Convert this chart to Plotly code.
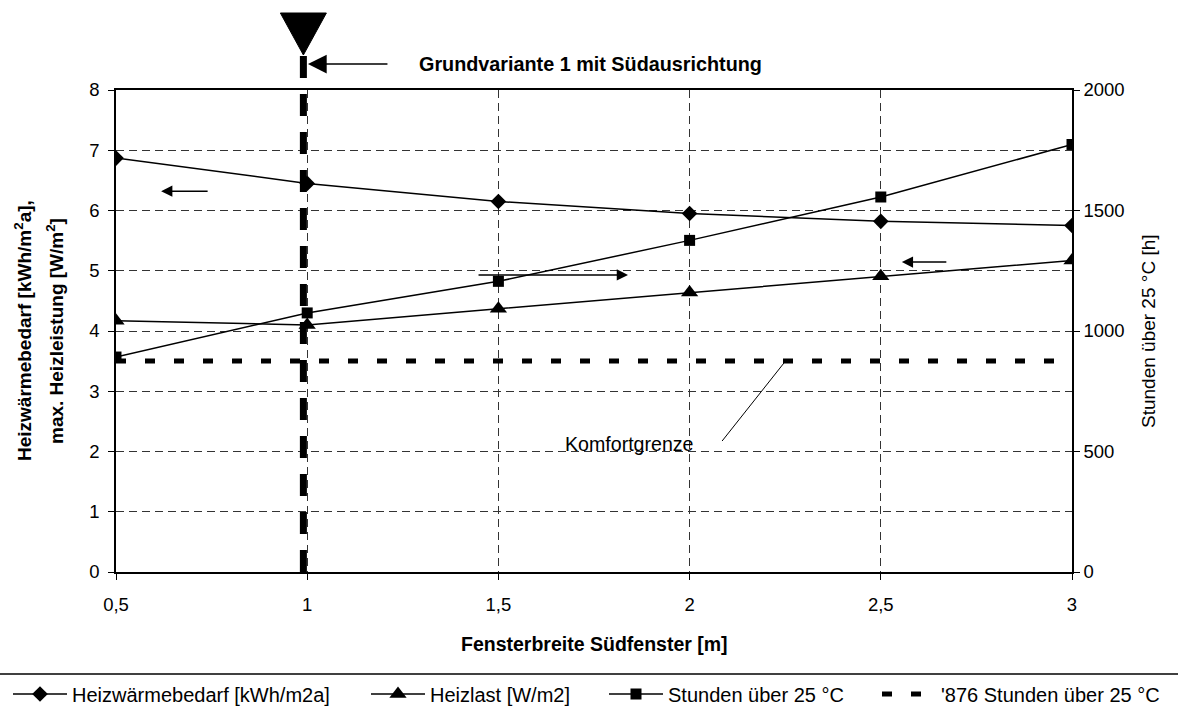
import plotly.graph_objects as go

# ---- data ----
fensterbreite = [0.5, 1.0, 1.5, 2.0, 2.5, 3.0]
tick_labels = ["0,5", "1", "1,5", "2", "2,5", "3"]
heizwaermebedarf = [6.87, 6.45, 6.15, 5.95, 5.82, 5.75]
heizlast = [4.17, 4.10, 4.37, 4.64, 4.91, 5.17]
stunden_ueber_25 = [892, 1075, 1206, 1376, 1556, 1774]
komfortgrenze_h = [876, 876, 876, 876, 876, 876]
grundvariante_x = 0.99

FONT = "Liberation Sans, Arial, sans-serif"
W, H = 1178, 709
L, R, T, B = 116, 106, 90, 137
PW, PH = W - L - R, H - T - B
XMIN, XMAX = 0.5, 3.0


def px_x(px):
    return (px - L) / PW


def px_y(py):
    return (H - B - py) / PH


fig = go.Figure()

fig.add_trace(go.Scatter(
    x=fensterbreite, y=heizwaermebedarf, name="Heizwärmebedarf [kWh/m2a]",
    mode="lines+markers", line=dict(color="black", width=1.5),
    marker=dict(symbol="diamond", size=12, color="black"), legend="legend"))
fig.add_trace(go.Scatter(
    x=fensterbreite, y=heizlast, name="Heizlast [W/m2]",
    mode="lines+markers", line=dict(color="black", width=1.5),
    marker=dict(symbol="triangle-up", size=15, color="black"), legend="legend2"))
fig.add_trace(go.Scatter(
    x=fensterbreite, y=stunden_ueber_25, name="Stunden über 25 °C", yaxis="y2",
    mode="lines+markers", line=dict(color="black", width=1.5),
    marker=dict(symbol="square", size=11, color="black"), legend="legend3"))
fig.add_trace(go.Scatter(
    x=fensterbreite, y=komfortgrenze_h, name="'876 Stunden über 25 °C", yaxis="y2",
    mode="lines", line=dict(color="black", width=5, dash="10px,19px"), legend="legend4"))

legend_common = dict(orientation="h", xref="container", yref="container",
                     yanchor="middle", y=(H - 694) / H, xanchor="left",
                     font=dict(family=FONT, size=20, color="black"),
                     bgcolor="rgba(0,0,0,0)", itemwidth=54)

shapes = [
    # thick dashed marker line for Grundvariante
    dict(type="line", xref="x", yref="paper", x0=grundvariante_x, x1=grundvariante_x,
         y0=px_y(572), y1=px_y(53), line=dict(color="black", width=7, dash="22px,16px")),
    # big triangle on top
    dict(type="path", xref="x", yref="paper", xsizemode="pixel", ysizemode="pixel",
         xanchor=grundvariante_x, yanchor=1,
         path="M -23 77 L 23 77 L 0 35 Z", fillcolor="black", line=dict(color="black", width=1)),
    # Komfortgrenze leader line
    dict(type="line", xref="x", yref="y", x0=2.085, y0=2.174, x1=2.255, y1=3.535,
         line=dict(color="black", width=1)),
    # legend separator line
    dict(type="line", xref="paper", yref="paper", x0=px_x(0), x1=px_x(W),
         y0=px_y(674), y1=px_y(674), line=dict(color="black", width=1.5)),
]

arrow = dict(showarrow=True, arrowhead=2, arrowsize=1.5, arrowwidth=1.5, arrowcolor="black",
             text="", ayref="pixel", axref="pixel")

annotations = [
    dict(x=1.002, y=px_y(64), xref="x", yref="paper", ax=81, ay=0, **{**arrow, "arrowsize": 2.5}),
    dict(x=0.618, y=6.32, xref="x", yref="y", ax=48, ay=0, **arrow),
    dict(x=1.839, y=4.93, xref="x", yref="y", ax=-151, ay=0, **arrow),
    dict(x=2.555, y=5.145, xref="x", yref="y", ax=46, ay=0, **arrow),
    dict(x=1.287, y=px_y(64), xref="x", yref="paper", xanchor="left", yanchor="middle",
         text="<b>Grundvariante 1 mit Südausrichtung</b>", showarrow=False,
         font=dict(family=FONT, size=19.8, color="black")),
    dict(x=1.843, y=2.125, xref="x", yref="y", xanchor="center", yanchor="middle",
         text="Komfortgrenze", showarrow=False,
         font=dict(family=FONT, size=19.6, color="black")),
    dict(x=px_x(23), y=0.5, xref="paper", yref="paper", textangle=-90,
         xanchor="center", yanchor="middle", showarrow=False,
         text="<b>Heizwärmebedarf [kWh/m<sup>2</sup>a],</b>",
         font=dict(family=FONT, size=19, color="black")),
    dict(x=px_x(55), y=0.5, xref="paper", yref="paper", textangle=-90,
         xanchor="center", yanchor="middle", showarrow=False,
         text="<b>max. Heizleistung [W/m<sup>2</sup>]</b>",
         font=dict(family=FONT, size=19, color="black")),
    dict(x=px_x(1148), y=0.5, xref="paper", yref="paper", textangle=-90,
         xanchor="center", yanchor="middle", showarrow=False,
         text="Stunden über 25 °C [h]",
         font=dict(family=FONT, size=19, color="black")),
    dict(x=0.5, y=px_y(644), xref="paper", yref="paper",
         xanchor="center", yanchor="middle", showarrow=False,
         text="<b>Fensterbreite Südfenster [m]</b>",
         font=dict(family=FONT, size=19.5, color="black")),
]

grid = dict(showgrid=True, gridcolor="#333333", gridwidth=1, griddash="8px,5px")
tickfont = dict(family=FONT, size=18.5, color="black")

fig.update_layout(
    width=W, height=H, autosize=False,
    margin=dict(l=L, r=R, t=T, b=B, pad=0, autoexpand=False),
    paper_bgcolor="white", plot_bgcolor="white",
    font=dict(family=FONT, size=19, color="black"),
    showlegend=True,
    legend=dict(x=8 / W, **legend_common),
    legend2=dict(x=366 / W, **legend_common),
    legend3=dict(x=604 / W, **legend_common),
    legend4=dict(x=877 / W, **legend_common),
    xaxis=dict(range=[XMIN, XMAX], tickvals=fensterbreite, ticktext=tick_labels,
               ticks="outside", ticklen=6, tickcolor="black", showline=True, linecolor="black",
               linewidth=1.5, mirror=True, zeroline=False, tickfont=tickfont,
               ticklabelstandoff=9, **grid),
    yaxis=dict(range=[0, 8], dtick=1, ticks="outside", ticklen=6, tickcolor="black",
               showline=True, linecolor="black", linewidth=1.5, zeroline=False,
               tickfont=tickfont, ticklabelstandoff=5, **grid),
    yaxis2=dict(range=[0, 2000], dtick=500, overlaying="y", side="right", ticks="outside",
                ticklen=6, tickcolor="black", showline=True, linecolor="black", linewidth=1.5,
                showgrid=False, zeroline=False, tickfont=tickfont),
    shapes=shapes, annotations=annotations,
)

fig.write_html("out.html")
